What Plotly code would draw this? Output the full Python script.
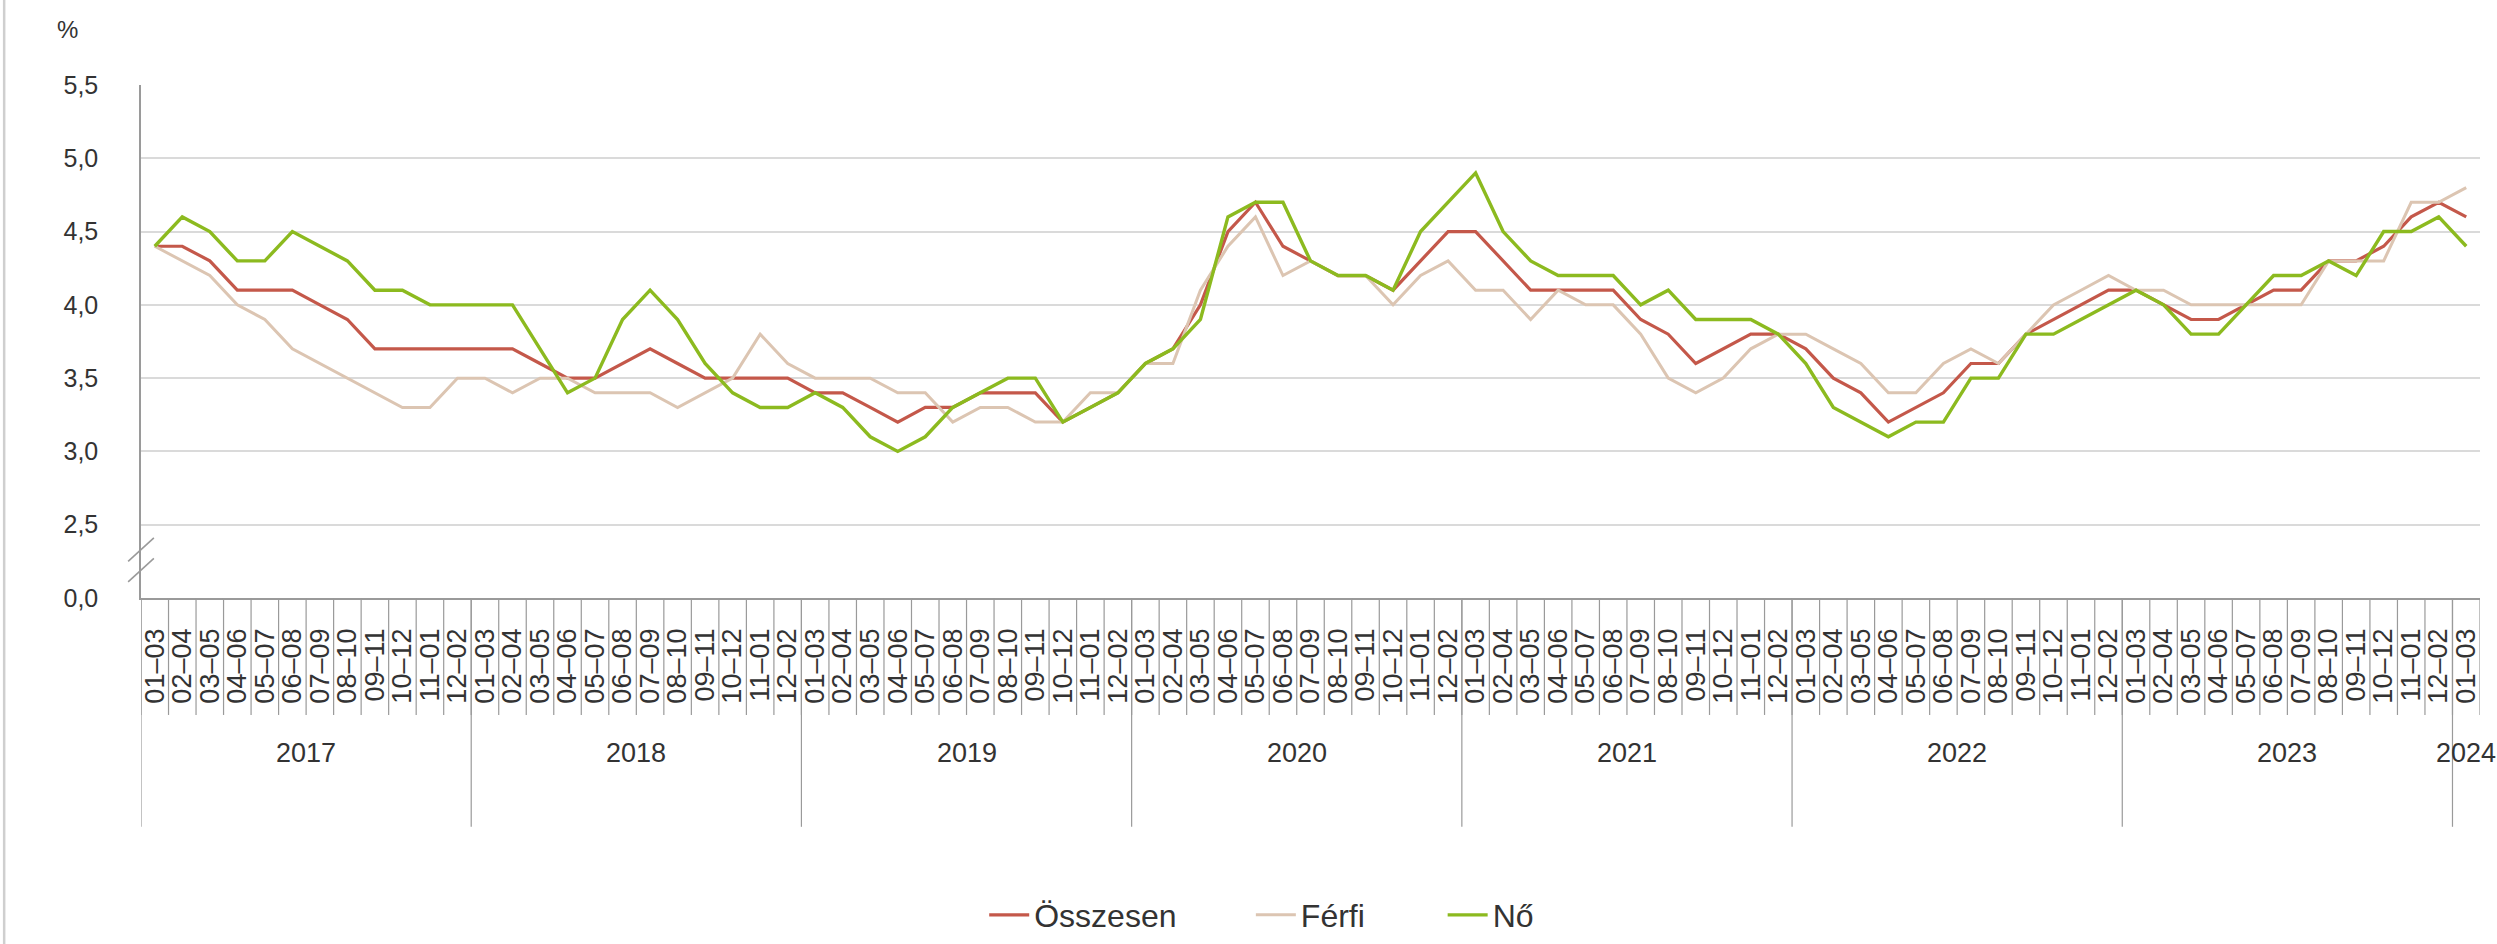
import plotly.graph_objects as go

# Rolling three-month periods, 2017 01–03 to 2024 01–03
years = ["2017", "2018", "2019", "2020", "2021", "2022", "2023", "2024"]
periods = ["01–03", "02–04", "03–05", "04–06", "05–07", "06–08",
           "07–09", "08–10", "09–11", "10–12", "11–01", "12–02"]

# Rate, % (Összesen = total, Férfi = men, Nő = women)
osszesen = [4.4, 4.4, 4.3, 4.1, 4.1, 4.1, 4.0, 3.9, 3.7, 3.7, 3.7, 3.7,
            3.7, 3.7, 3.6, 3.5, 3.5, 3.6, 3.7, 3.6, 3.5, 3.5, 3.5, 3.5,
            3.4, 3.4, 3.3, 3.2, 3.3, 3.3, 3.4, 3.4, 3.4, 3.2, 3.3, 3.4,
            3.6, 3.7, 4.0, 4.5, 4.7, 4.4, 4.3, 4.2, 4.2, 4.1, 4.3, 4.5,
            4.5, 4.3, 4.1, 4.1, 4.1, 4.1, 3.9, 3.8, 3.6, 3.7, 3.8, 3.8,
            3.7, 3.5, 3.4, 3.2, 3.3, 3.4, 3.6, 3.6, 3.8, 3.9, 4.0, 4.1,
            4.1, 4.0, 3.9, 3.9, 4.0, 4.1, 4.1, 4.3, 4.3, 4.4, 4.6, 4.7,
            4.6]
ferfi = [4.4, 4.3, 4.2, 4.0, 3.9, 3.7, 3.6, 3.5, 3.4, 3.3, 3.3, 3.5,
         3.5, 3.4, 3.5, 3.5, 3.4, 3.4, 3.4, 3.3, 3.4, 3.5, 3.8, 3.6,
         3.5, 3.5, 3.5, 3.4, 3.4, 3.2, 3.3, 3.3, 3.2, 3.2, 3.4, 3.4,
         3.6, 3.6, 4.1, 4.4, 4.6, 4.2, 4.3, 4.2, 4.2, 4.0, 4.2, 4.3,
         4.1, 4.1, 3.9, 4.1, 4.0, 4.0, 3.8, 3.5, 3.4, 3.5, 3.7, 3.8,
         3.8, 3.7, 3.6, 3.4, 3.4, 3.6, 3.7, 3.6, 3.8, 4.0, 4.1, 4.2,
         4.1, 4.1, 4.0, 4.0, 4.0, 4.0, 4.0, 4.3, 4.3, 4.3, 4.7, 4.7,
         4.8]
no = [4.4, 4.6, 4.5, 4.3, 4.3, 4.5, 4.4, 4.3, 4.1, 4.1, 4.0, 4.0,
      4.0, 4.0, 3.7, 3.4, 3.5, 3.9, 4.1, 3.9, 3.6, 3.4, 3.3, 3.3,
      3.4, 3.3, 3.1, 3.0, 3.1, 3.3, 3.4, 3.5, 3.5, 3.2, 3.3, 3.4,
      3.6, 3.7, 3.9, 4.6, 4.7, 4.7, 4.3, 4.2, 4.2, 4.1, 4.5, 4.7,
      4.9, 4.5, 4.3, 4.2, 4.2, 4.2, 4.0, 4.1, 3.9, 3.9, 3.9, 3.8,
      3.6, 3.3, 3.2, 3.1, 3.2, 3.2, 3.5, 3.5, 3.8, 3.8, 3.9, 4.0,
      4.1, 4.0, 3.8, 3.8, 4.0, 4.2, 4.2, 4.3, 4.2, 4.5, 4.5, 4.6,
      4.4]

y_tickvals = [2.0, 2.5, 3.0, 3.5, 4.0, 4.5, 5.0, 5.5]
y_ticktext = ["0,0", "2,5", "3,0", "3,5", "4,0", "4,5", "5,0", "5,5"]

# category keys (unique per year) and the period shown under each one
cats, tick_text, cat_year = [], [], []
for y in years[:-1]:
    for p in periods:
        cats.append(f"{y} {p}")
        tick_text.append(p)
        cat_year.append(y)
cats.append(f"{years[-1]} {periods[0]}")
tick_text.append(periods[0])
cat_year.append(years[-1])

FONT = "Liberation Sans, Arial, sans-serif"
TXT = "#333333"
AXIS = "#9a9a9a"

# name, values, colour, width, legend id, legend left edge (paper x)
series = [
    ("Összesen", osszesen, "#c4584a", 3.2, "legend", 0.3605),
    ("Férfi", ferfi, "#dcc5b2", 3.0, "legend2", 0.4745),
    ("Nő", no, "#8cba1f", 3.4, "legend3", 0.5565),
]

fig = go.Figure()
legends = {}
for name, vals, color, w, leg, lx in series:
    fig.add_trace(go.Scatter(
        x=cats, y=vals, name=name, mode="lines",
        line=dict(color=color, width=w), legend=leg,
    ))
    legends[leg] = dict(orientation="h", x=lx, xanchor="left",
                        y=-0.618, yanchor="middle",
                        bgcolor="rgba(0,0,0,0)",
                        font=dict(family=FONT, size=32, color=TXT),
                        itemwidth=40)

shapes = []
annotations = []

# period separators below the axis
n = len(cats)
for i in range(n + 1):
    shapes.append(dict(type="line", xref="x", yref="paper",
                       x0=i - 0.5, x1=i - 0.5, y0=0, y1=-0.228,
                       line=dict(color=AXIS, width=1.2)))

# year dividers and year labels
for y in years:
    idx = [i for i, cy in enumerate(cat_year) if cy == y]
    first, last = idx[0], idx[-1]
    shapes.append(dict(type="line", xref="x", yref="paper",
                       x0=first - 0.5, x1=first - 0.5, y0=0, y1=-0.446,
                       line=dict(color=AXIS, width=1.2)))
    annotations.append(dict(x=(first + last) / 2, y=-0.302, xref="x",
                            yref="paper", text=y, showarrow=False,
                            font=dict(family=FONT, size=27, color=TXT),
                            xanchor="center", yanchor="middle"))

# axis break marks between 0,0 and 2,5
for v0, v1 in [(2.11, 2.27), (2.25, 2.41)]:
    shapes.append(dict(type="line", xref="paper", yref="y",
                       x0=-0.0055, x1=0.0055, y0=v0, y1=v1,
                       line=dict(color=AXIS, width=1.6)))

# outer frame on the left
shapes.append(dict(type="line", xref="paper", yref="paper",
                   x0=-0.0585, x1=-0.0585, y0=-0.7, y1=1.2,
                   line=dict(color="#cfcfcf", width=2.5)))

annotations.append(dict(x=-0.0315, y=1.109, xref="paper", yref="paper",
                        text="%", showarrow=False,
                        font=dict(family=FONT, size=24, color=TXT),
                        xanchor="center", yanchor="middle"))

fig.update_layout(
    width=2497, height=944,
    margin=dict(l=141, r=17, t=85, b=346, autoexpand=False),
    paper_bgcolor="white", plot_bgcolor="white",
    font=dict(family=FONT, color=TXT),
    showlegend=True,
    shapes=shapes,
    annotations=annotations,
    xaxis=dict(
        type="category", categoryorder="array", categoryarray=cats,
        range=[-0.5, n - 0.5], automargin=False,
        tickmode="array", tickvals=cats, ticktext=tick_text,
        tickangle=-90, ticks="", ticklabelstandoff=18,
        tickfont=dict(family=FONT, size=27, color=TXT),
        showline=True, linecolor=AXIS, linewidth=1.5,
        showgrid=False, zeroline=False,
    ),
    yaxis=dict(
        range=[2.0, 5.5], tickmode="array", automargin=False,
        tickvals=y_tickvals, ticktext=y_ticktext,
        tickfont=dict(family=FONT, size=25, color=TXT),
        ticks="", ticklabelstandoff=36,
        showline=True, linecolor=AXIS, linewidth=1.5,
        showgrid=True, gridcolor="#dadada", gridwidth=1.5,
        zeroline=False,
    ),
    **legends,
)

fig.write_html("out.html")
